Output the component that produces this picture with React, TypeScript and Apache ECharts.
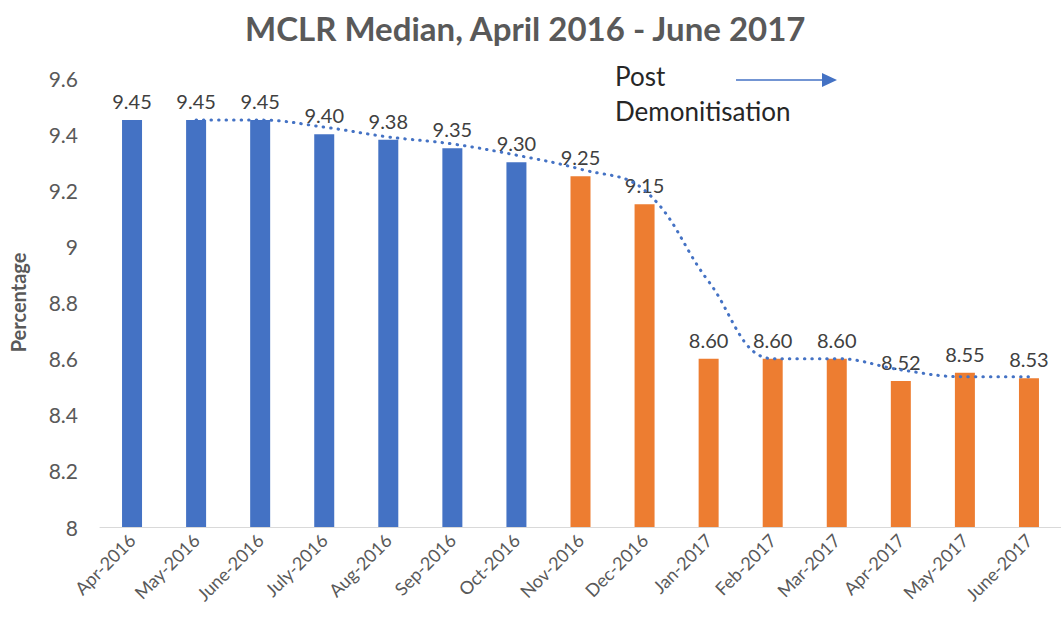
import React, { useEffect, useRef } from "react";
import * as echarts from "echarts";

const months = [
  "Apr-2016", "May-2016", "June-2016", "July-2016", "Aug-2016", "Sep-2016", "Oct-2016",
  "Nov-2016", "Dec-2016", "Jan-2017", "Feb-2017", "Mar-2017", "Apr-2017", "May-2017", "June-2017",
];
const mclr = [9.45, 9.45, 9.45, 9.4, 9.38, 9.35, 9.3, 9.25, 9.15, 8.6, 8.6, 8.6, 8.52, 8.55, 8.53];
const postDemonetisation = [false, false, false, false, false, false, false, true, true, true, true, true, true, true, true];
// trendline (moving average)
const trend = [null, 9.45, 9.45, 9.425, 9.39, 9.365, 9.325, 9.275, 9.2, 8.875, 8.6, 8.6, 8.56, 8.535, 8.535];
const yTicks = [8, 8.2, 8.4, 8.6, 8.8, 9, 9.2, 9.4, 9.6];

const BLUE = "#4472C4";
const ORANGE = "#ED7D31";
const FONT = "Lato, 'Open Sans', sans-serif";

export default function App() {
  const ref = useRef<HTMLDivElement>(null);
  useEffect(() => {
    if (!ref.current) return;
    const chart = echarts.init(ref.current, undefined, { renderer: "svg" });
    chart.setOption({
      animation: false,
      textStyle: { fontFamily: FONT },
      title: {
        text: "MCLR Median, April 2016 - June 2017",
        left: 240,
        top: 6,
        textStyle: { fontFamily: FONT, fontSize: 33, fontWeight: "bold", color: "#595959" },
      },
      grid: { left: 96, top: 78, bottom: 101, width: 972 },
      xAxis: {
        type: "category",
        data: months,
        axisLine: { lineStyle: { color: "#D9D9D9", width: 1 } },
        axisTick: { show: false },
        axisLabel: {
          rotate: 45,
          interval: 0,
          color: "#595959",
          fontSize: 18,
          fontFamily: FONT,
          margin: 10,
        },
      },
      yAxis: {
        type: "value",
        min: yTicks[0],
        max: yTicks[yTicks.length - 1],
        interval: 0.2,
        name: "Percentage",
        nameLocation: "middle",
        nameGap: 72,
        nameRotate: 90,
        nameTextStyle: { fontFamily: FONT, fontSize: 20, fontWeight: "bold", color: "#595959" },
        splitLine: { show: false },
        axisLine: { show: false },
        axisTick: { show: false },
        axisLabel: {
          color: "#595959",
          fontSize: 21,
          fontFamily: FONT,
          margin: 22,
          formatter: (v: number) => String(Math.round(v * 10) / 10),
        },
      },
      series: [
        {
          type: "bar",
          barWidth: 20,
          data: mclr.map((v, i) => ({
            value: v,
            itemStyle: { color: postDemonetisation[i] ? ORANGE : BLUE },
          })),
          label: {
            show: true,
            position: "top",
            distance: 9,
            color: "#404040",
            fontSize: 20,
            fontFamily: FONT,
            formatter: (p: any) => Number(p.value).toFixed(2),
          },
        },
        {
          type: "line",
          data: trend,
          smooth: 0.4,
          symbol: "none",
          connectNulls: false,
          lineStyle: { color: BLUE, width: 3, type: [0.5, 7], cap: "round" },
          z: 5,
        },
      ],
      graphic: [
        {
          type: "text",
          left: 615,
          top: 63,
          style: { text: "Post", fontFamily: FONT, fontSize: 26, fill: "#262626" },
        },
        {
          type: "text",
          left: 615,
          top: 98,
          style: { text: "Demonitisation", fontFamily: FONT, fontSize: 26, fill: "#262626" },
        },
        {
          type: "line",
          shape: { x1: 736, y1: 80, x2: 826, y2: 80 },
          style: { stroke: BLUE, lineWidth: 1.5 },
        },
        {
          type: "polygon",
          shape: { points: [[822, 73], [837, 80], [822, 87]] },
          style: { fill: BLUE },
        },
      ],
    });
    return () => chart.dispose();
  }, []);
  return <div ref={ref} style={{ width: 1061, height: 628, position: "absolute", left: 0, top: 0 }} />;
}
